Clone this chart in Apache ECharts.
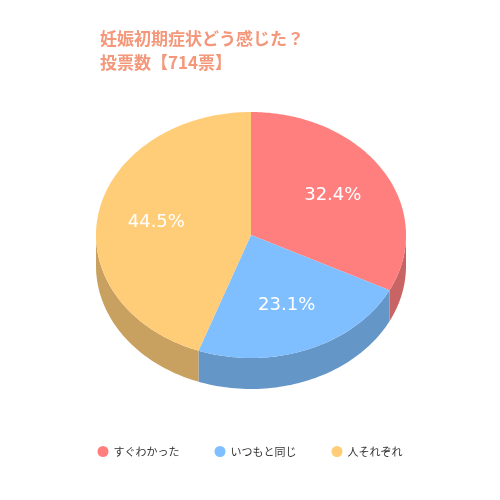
<!DOCTYPE html>
<html><head><meta charset="utf-8">
<script src="https://cdn.jsdelivr.net/npm/echarts@6/dist/echarts.min.js"></script>
<style>html,body{margin:0;padding:0;background:#fff}#c{width:500px;height:500px}</style>
</head><body><div id="c"></div>
<script>
var categories = ['すぐわかった', 'いつもと同じ', '人それぞれ'];
var values = [32.4, 23.1, 44.5];
var topColors = ['#ff7f7f', '#7fbfff', '#ffcc77'];
var sideColors = ['#c86464', '#6496c8', '#c8a05f'];

var chart = echarts.init(document.getElementById('c'));
function renderPie(params, api) {
  var cx = 251, cy = 235, rx = 155, ry = 123, depth = 31;
  var total = values.reduce(function(a, b){return a + b;}, 0);
  var walls = [], tops = [], texts = [];
  var start = -Math.PI / 2;
  function pt(t, dy){ return [cx + rx * Math.cos(t), cy + ry * Math.sin(t) + (dy || 0)]; }
  for (var i = 0; i < values.length; i++) {
    var sweep = values[i] / total * Math.PI * 2;
    var a = start, b = start + sweep;
    // front-facing wall segments (angles in [0, PI] modulo 2PI)
    [0, Math.PI * 2, -Math.PI * 2].forEach(function(off){
      var s = Math.max(a, off), e = Math.min(b, off + Math.PI);
      if (e > s) {
        var pts = [], n = 60, k;
        for (k = 0; k <= n; k++) pts.push(pt(s + (e - s) * k / n));
        for (k = n; k >= 0; k--) pts.push(pt(s + (e - s) * k / n, depth));
        walls.push({type: 'polygon', shape: {points: pts}, style: {fill: sideColors[i]}});
      }
    });
    var tp = [[cx, cy]], n2 = 120;
    for (var k2 = 0; k2 <= n2; k2++) tp.push(pt(a + sweep * k2 / n2));
    tops.push({type: 'polygon', shape: {points: tp}, style: {fill: topColors[i]}});
    var m = a + sweep / 2;
    texts.push({type: 'text', style: {text: values[i].toFixed(1) + '%', x: cx + rx * 0.62 * Math.cos(m), y: cy + ry * 0.62 * Math.sin(m),
      fill: '#fff', font: '18px "DejaVu Sans", sans-serif', align: 'center', verticalAlign: 'middle'}});
    start = b;
  }
  return {type: 'group', children: walls.concat(tops, texts)};
}
chart.setOption({
  animation: false,
  title: {text: '妊娠初期症状どう感じた？\n投票数【714票】', left: 95, top: 22,
    textStyle: {color: '#f4977a', fontSize: 17, fontWeight: 'bold', lineHeight: 24, fontFamily: '"Noto Sans CJK JP", sans-serif'}},
  legend: {bottom: 38, left: 'center', icon: 'circle', itemWidth: 11, itemHeight: 11, itemGap: 35,
    textStyle: {fontSize: 11, color: '#333', fontFamily: '"Noto Sans CJK JP", sans-serif'}, data: categories},
  series: [
    {type: 'pie', radius: [0, 0], silent: true, label: {show: false}, labelLine: {show: false},
      data: categories.map(function(c, i){return {name: c, value: values[i], itemStyle: {color: topColors[i]}};})},
    {type: 'custom', coordinateSystem: 'none', silent: true, data: [[0]], renderItem: renderPie}
  ]
});
</script></body></html>
